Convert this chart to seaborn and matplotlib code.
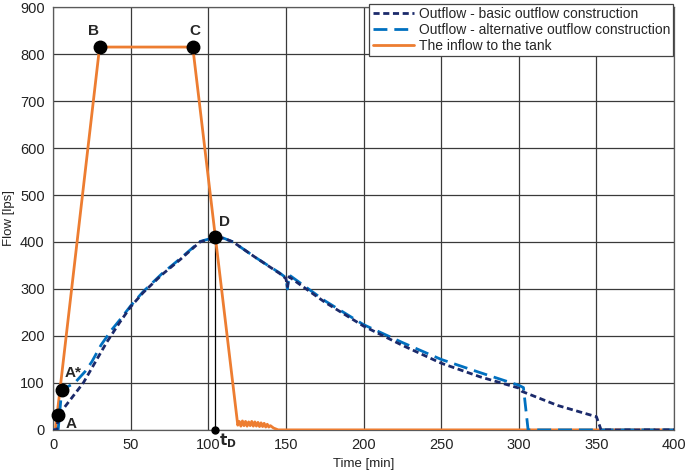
import matplotlib
matplotlib.use("Agg")
import matplotlib.pyplot as plt
import seaborn as sns
import pandas as pd

# ---- data ----
inflow_t = [0, 1.5, 30, 90, 119, 120, 121, 122, 123, 124, 125, 126, 127, 128, 129, 130,
            131, 132, 133, 134, 135, 136, 137, 138, 139, 140, 142, 145, 400]
inflow_q = [0, 0, 815, 815, 10, 18, 8, 19, 9, 18, 8, 17, 9, 18, 8, 17,
            8, 16, 7, 15, 7, 14, 6, 12, 6, 9, 4, 0, 0]

basic_t = [0, 2.5, 3.4, 19.5, 34.5, 43, 50, 58, 70, 81.7, 94.6, 104.5, 110, 116, 130,
           146, 150, 151, 152, 175, 200, 225, 250, 275, 300, 302, 325, 350, 353, 400]
basic_q = [0, 0, 31, 100, 186, 229, 262, 292, 330, 362, 400, 410, 408, 400, 368,
           333, 322, 305, 326, 272, 221, 180, 142, 113, 89, 82, 52, 28, 0, 0]

alt_t = [0, 3.3, 5.6, 14, 20.6, 25, 31, 37.8, 43, 50, 58, 70, 81.7, 94.6, 104.5, 110,
         116, 130, 146, 150, 151, 152, 175, 200, 225, 250, 275, 300, 303, 306, 400]
alt_q = [0, 0, 85, 100, 124, 145, 181, 213, 234, 264, 294, 332, 364, 401, 410, 408,
         400, 368, 334, 324, 300, 330, 275, 224, 186, 150, 122, 95, 90, 0, 0]

points = {"A": (3.4, 31), "A*": (5.6, 85), "B": (30, 815), "C": (90, 815), "D": (104.5, 410)}
t_D = 104.5

x_ticks = [0, 50, 100, 150, 200, 250, 300, 350, 400]
y_ticks = [0, 100, 200, 300, 400, 500, 600, 700, 800, 900]

labels = ["Outflow - basic outflow construction",
          "Outflow - alternative outflow construction",
          "The inflow to the tank"]

# ---- plotting ----
sns.set_theme(style="whitegrid")
plt.rcParams["font.family"] = ["Liberation Sans", "DejaVu Sans"]

fig = plt.figure(figsize=(6.85, 4.75), dpi=100)
ax = fig.add_axes([0.0774, 0.095, 0.9066, 0.89])

df_basic = pd.DataFrame({"t": basic_t, "q": basic_q})
df_alt = pd.DataFrame({"t": alt_t, "q": alt_q})
df_in = pd.DataFrame({"t": inflow_t, "q": inflow_q})

sns.lineplot(data=df_in, x="t", y="q", ax=ax, color="#ED7D31", lw=2.0,
             sort=False, estimator=None, label=labels[2], zorder=3)
sns.lineplot(data=df_alt, x="t", y="q", ax=ax, color="#0070C0", lw=2.0,
             sort=False, estimator=None, label=labels[1], zorder=4)
sns.lineplot(data=df_basic, x="t", y="q", ax=ax, color="#1B2A6B", lw=2.0,
             sort=False, estimator=None, label=labels[0], zorder=5)

lines = ax.get_lines()
lines[1].set_dashes([5, 2.5])
lines[2].set_dashes([2.2, 1.3])

# t_D vertical line
ax.plot([t_D, t_D], [0, points["D"][1]], color="black", lw=0.9, zorder=2)

# marked points
for k, (x, y) in points.items():
    ax.plot(x, y, "o", color="black", ms=9, zorder=6, clip_on=False)
ax.plot(t_D, 0, "o", color="black", ms=5, zorder=6, clip_on=False)

fs = 11
ax.text(8, 12, "A", fontsize=fs, fontweight="bold", ha="left", va="center")
ax.text(7.5, 122, "A*", fontsize=fs, fontweight="bold", ha="left", va="center")
ax.text(26, 850, "B", fontsize=fs, fontweight="bold", ha="center", va="center")
ax.text(91.5, 850, "C", fontsize=fs, fontweight="bold", ha="center", va="center")
ax.text(110.5, 442, "D", fontsize=fs, fontweight="bold", ha="center", va="center")
ax.text(107, -22, r"$\mathbf{t_D}$", fontsize=fs, ha="left", va="center", clip_on=False)

ax.set_xlim(0, 400)
ax.set_ylim(0, 900)
ax.set_xticks(x_ticks)
ax.set_yticks(y_ticks)
ax.tick_params(axis="both", length=0, labelsize=10.5, colors="#222222", pad=6)
ax.set_xlabel("Time [min]", fontsize=9.5, color="#222222", labelpad=4)
ax.set_ylabel("Flow [lps]", fontsize=9.5, color="#222222", labelpad=4)

ax.grid(True, color="#3a3a3a", lw=0.9)
for s in ax.spines.values():
    s.set_color("#5a5a5a")
    s.set_linewidth(0.9)

handles, labs = ax.get_legend_handles_labels()
order = [labs.index(l) for l in labels]
leg = ax.legend([handles[i] for i in order], [labs[i] for i in order],
                loc="upper right", bbox_to_anchor=(0.999, 1.008), fontsize=10,
                frameon=True, fancybox=False, framealpha=1, edgecolor="#444444",
                handlelength=3.0, handletextpad=0.3, labelspacing=0.12,
                borderpad=0.25, borderaxespad=0.0)
leg.get_frame().set_linewidth(0.9)
leg.set_zorder(10)

fig.savefig("out.png", dpi=100)
